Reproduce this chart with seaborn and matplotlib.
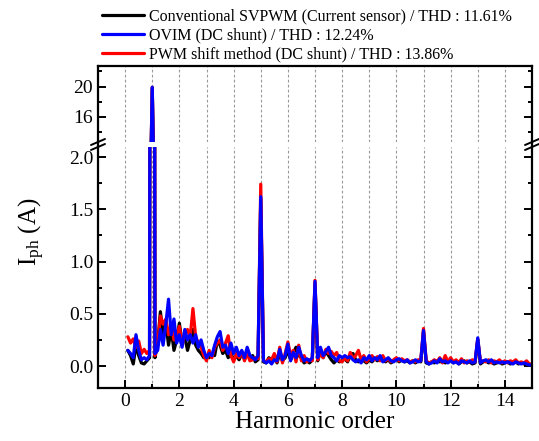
import numpy as np
import pandas as pd
import seaborn as sns
import matplotlib.pyplot as plt
from matplotlib.lines import Line2D
from matplotlib.ticker import MultipleLocator

# harmonic order grid (0.1 step, 0.1 .. 15.0)
harmonic = np.round(np.arange(1, 151) * 0.1, 1)

conventional = [
    0.15, 0.10, 0.02, 0.20, 0.10, 0.03, 0.02, 0.05, 0.08, 19.8,
    0.08, 0.22, 0.52, 0.30, 0.42, 0.20, 0.35, 0.15, 0.25, 0.41,
    0.22, 0.28, 0.15, 0.25, 0.35, 0.20, 0.15, 0.12, 0.08, 0.10,
    0.08, 0.12, 0.10, 0.24, 0.20, 0.12, 0.15, 0.08, 0.12, 0.06,
    0.10, 0.06, 0.12, 0.07, 0.14, 0.08, 0.10, 0.04, 0.06, 1.60,
    0.04, 0.03, 0.08, 0.05, 0.10, 0.03, 0.12, 0.05, 0.08, 0.15,
    0.06, 0.12, 0.18, 0.10, 0.08, 0.03, 0.05, 0.03, 0.06, 0.78,
    0.05, 0.16, 0.08, 0.14, 0.10, 0.06, 0.03, 0.06, 0.04, 0.05,
    0.07, 0.04, 0.10, 0.12, 0.06, 0.04, 0.07, 0.05, 0.03, 0.06,
    0.04, 0.07, 0.05, 0.08, 0.06, 0.04, 0.06, 0.03, 0.05, 0.07,
    0.04, 0.06, 0.04, 0.05, 0.03, 0.05, 0.03, 0.05, 0.04, 0.33,
    0.03, 0.02, 0.04, 0.03, 0.05, 0.04, 0.05, 0.03, 0.04, 0.06,
    0.03, 0.05, 0.02, 0.04, 0.05, 0.03, 0.04, 0.02, 0.03, 0.25,
    0.02, 0.04, 0.05, 0.03, 0.04, 0.02, 0.03, 0.04, 0.02, 0.03,
    0.04, 0.02, 0.03, 0.04, 0.02, 0.03, 0.02, 0.03, 0.01, 0.01,
]

ovim = [
    0.15, 0.12, 0.08, 0.30, 0.15, 0.06, 0.08, 0.06, 0.10, 19.9,
    0.12, 0.15, 0.35, 0.20, 0.40, 0.64, 0.30, 0.45, 0.22, 0.30,
    0.18, 0.35, 0.25, 0.30, 0.22, 0.30, 0.18, 0.25, 0.15, 0.08,
    0.12, 0.10, 0.20, 0.28, 0.33, 0.18, 0.20, 0.12, 0.22, 0.12,
    0.18, 0.10, 0.15, 0.08, 0.18, 0.10, 0.08, 0.06, 0.10, 1.62,
    0.05, 0.03, 0.05, 0.02, 0.06, 0.05, 0.16, 0.06, 0.10, 0.21,
    0.05, 0.13, 0.08, 0.18, 0.10, 0.05, 0.07, 0.05, 0.08, 0.81,
    0.08, 0.18, 0.10, 0.14, 0.18, 0.10, 0.08, 0.05, 0.10, 0.08,
    0.10, 0.08, 0.09, 0.06, 0.04, 0.06, 0.03, 0.08, 0.06, 0.10,
    0.05, 0.08, 0.06, 0.10, 0.04, 0.06, 0.08, 0.05, 0.04, 0.06,
    0.07, 0.05, 0.04, 0.06, 0.03, 0.04, 0.06, 0.04, 0.05, 0.34,
    0.04, 0.02, 0.03, 0.05, 0.03, 0.07, 0.04, 0.05, 0.03, 0.05,
    0.03, 0.04, 0.02, 0.05, 0.04, 0.03, 0.05, 0.03, 0.04, 0.27,
    0.03, 0.05, 0.06, 0.04, 0.06, 0.03, 0.04, 0.03, 0.04, 0.03,
    0.04, 0.03, 0.02, 0.04, 0.03, 0.02, 0.03, 0.02, 0.01, 0.01,
]

pwm_shift = [
    0.28, 0.22, 0.26, 0.18, 0.24, 0.12, 0.16, 0.12, 0.15, 19.9,
    0.10, 0.20, 0.48, 0.40, 0.45, 0.30, 0.40, 0.25, 0.30, 0.38,
    0.20, 0.30, 0.35, 0.28, 0.55, 0.28, 0.22, 0.18, 0.10, 0.05,
    0.15, 0.08, 0.18, 0.22, 0.25, 0.15, 0.22, 0.29, 0.10, 0.04,
    0.12, 0.08, 0.14, 0.05, 0.12, 0.05, 0.06, 0.08, 0.07, 1.74,
    0.05, 0.04, 0.07, 0.06, 0.12, 0.04, 0.18, 0.03, 0.12, 0.23,
    0.10, 0.15, 0.04, 0.20, 0.05, 0.10, 0.04, 0.06, 0.05, 0.82,
    0.06, 0.12, 0.08, 0.16, 0.12, 0.14, 0.10, 0.13, 0.05, 0.04,
    0.08, 0.05, 0.13, 0.07, 0.10, 0.15, 0.06, 0.10, 0.04, 0.07,
    0.10, 0.06, 0.09, 0.05, 0.10, 0.05, 0.07, 0.04, 0.06, 0.08,
    0.05, 0.07, 0.05, 0.06, 0.04, 0.05, 0.04, 0.06, 0.05, 0.36,
    0.05, 0.03, 0.04, 0.06, 0.04, 0.08, 0.03, 0.10, 0.04, 0.08,
    0.04, 0.06, 0.03, 0.07, 0.03, 0.05, 0.04, 0.06, 0.04, 0.26,
    0.04, 0.05, 0.04, 0.06, 0.03, 0.05, 0.04, 0.06, 0.03, 0.05,
    0.03, 0.05, 0.04, 0.06, 0.03, 0.04, 0.03, 0.05, 0.02, 0.02,
]

labels = [
    "Conventional SVPWM (Current sensor) / THD : 11.61%",
    "OVIM (DC shunt) / THD : 12.24%",
    "PWM shift method (DC shunt) / THD : 13.86%",
]
colors = {labels[0]: "#000000", labels[1]: "#0000ff", labels[2]: "#ff0000"}
draw_order = [labels[0], labels[2], labels[1]]

data = pd.DataFrame({
    "Harmonic": np.tile(harmonic, 3),
    "Current": conventional + ovim + pwm_shift,
    "Method": np.repeat(labels, len(harmonic)),
})

sns.set_style("ticks")
plt.rcParams["font.family"] = ["Liberation Serif", "DejaVu Serif"]
plt.rcParams["mathtext.fontset"] = "custom"
plt.rcParams["mathtext.rm"] = "Liberation Serif"
plt.rcParams["mathtext.it"] = "Liberation Serif:italic"
plt.rcParams["text.color"] = "black"
plt.rcParams["axes.labelcolor"] = "black"
plt.rcParams["axes.edgecolor"] = "black"
plt.rcParams["xtick.color"] = "black"
plt.rcParams["ytick.color"] = "black"

fig = plt.figure(figsize=(5.39, 4.41), dpi=100)
W, H = 539, 441
x0, x1 = 98 / W, 532 / W
ax_top = fig.add_axes([x0, 1 - 142 / H, x1 - x0, (142 - 66) / H])
ax_bot = fig.add_axes([x0, 1 - 388 / H, x1 - x0, (388 - 147) / H])

for ax in (ax_top, ax_bot):
    sns.lineplot(data=data, x="Harmonic", y="Current", hue="Method",
                 hue_order=draw_order, palette=colors, estimator=None,
                 sort=False, linewidth=2.3, legend=False, ax=ax)
    ax.set_xlim(-1, 15)
    ax.xaxis.set_major_locator(MultipleLocator(2))
    ax.xaxis.set_minor_locator(MultipleLocator(1))
    ax.grid(axis="x", which="both", color="#999999", linestyle=(0, (2.5, 2)),
            linewidth=0.8)
    ax.set_xlabel("")
    ax.set_ylabel("")
    for s in ax.spines.values():
        s.set_linewidth(1.6)
        s.set_color("black")
        s.set_visible(True)
    ax.tick_params(which="both", direction="in", right=True, top=False,
                   width=1.4, labelsize=14, colors="black")
    ax.tick_params(which="major", length=5.5)
    ax.tick_params(which="minor", length=3)

ax_top.set_ylim(12.72, 22.69)
ax_top.yaxis.set_major_locator(MultipleLocator(4))
ax_top.yaxis.set_minor_locator(MultipleLocator(2))
ax_top.spines["bottom"].set_visible(False)
ax_top.tick_params(axis="x", which="both", bottom=False, labelbottom=False)

ax_bot.set_ylim(-0.21, 2.096)
ax_bot.yaxis.set_major_locator(MultipleLocator(0.5))
ax_bot.yaxis.set_minor_locator(MultipleLocator(0.25))
ax_bot.spines["top"].set_visible(False)
ax_bot.yaxis.set_major_formatter(plt.FormatStrFormatter("%.1f"))
ax_bot.set_xlabel("Harmonic order", fontsize=18, labelpad=1, color="black")

# continue the frame across the break and draw the break marks
for xs in (x0, x1):
    fig.add_artist(Line2D([xs, xs], [1 - 147 / H, 1 - 142 / H],
                          color="black", linewidth=1.6))
    for dy in (-2.5, 2.5):
        yc = 1 - (144.5 + dy) / H
        fig.add_artist(Line2D([xs - 7 / W, xs + 7 / W], [yc - 3 / H, yc + 3 / H],
                              color="black", linewidth=1.4))

fig.text(32 / W, 1 - 232 / H, r"I$_{\rm ph}$ (A)", rotation=90,
         ha="center", va="center", fontsize=18, color="black")

handles = [Line2D([], [], color=colors[l], linewidth=2.3) for l in labels]
fig.legend(handles, labels, loc="upper left", bbox_to_anchor=(96 / W, 1 - 2 / H),
           frameon=False, fontsize=11.5, handlelength=2.6, handletextpad=0.3,
           labelspacing=0.2, borderaxespad=0, labelcolor="black")

fig.savefig("out.png", dpi=100)
